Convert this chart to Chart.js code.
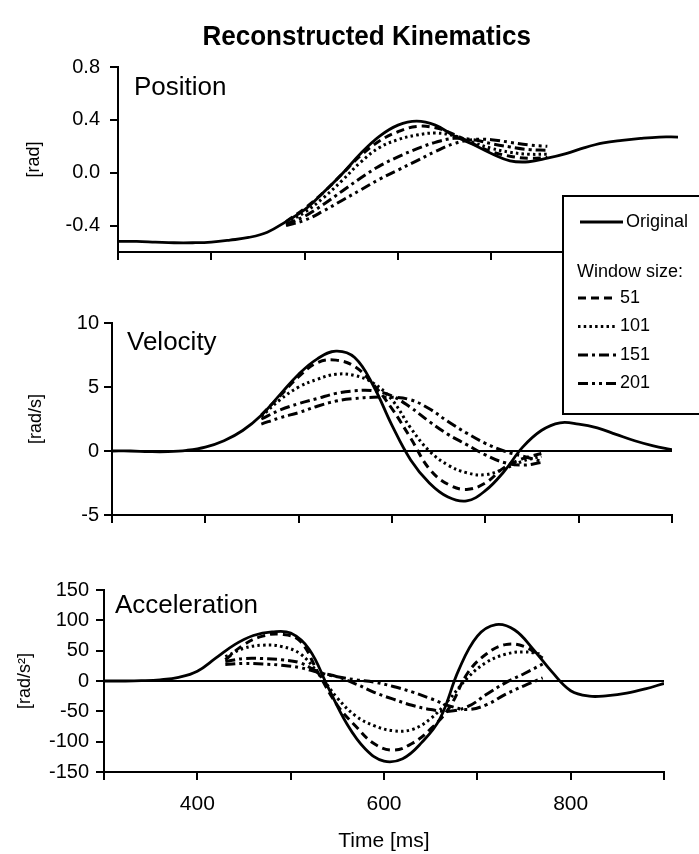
<!DOCTYPE html>
<html>
<head>
<meta charset="utf-8">
<script src="https://cdn.jsdelivr.net/npm/chart.js@4.4.0/dist/chart.umd.min.js"></script>
<style>
html,body{margin:0;padding:0;background:#fff;}
#wrap{position:relative;width:699px;height:854px;overflow:hidden;background:#fff;}
#wrap canvas{position:absolute;left:0;top:0;}
#title{position:absolute;left:16px;top:20px;width:699px;text-align:center;font-weight:bold;font-size:28px;line-height:32px;font-family:"Liberation Sans",Arial,Helvetica,sans-serif;color:#000;transform:scaleX(0.93);transform-origin:366px 0;}
</style>
</head>
<body>
<div id="wrap">
<canvas id="cPos" width="699" height="854"></canvas>
<canvas id="cVel" width="699" height="854"></canvas>
<canvas id="cAcc" width="699" height="854"></canvas>
<div id="title">Reconstructed Kinematics</div>
</div>
<script>
// ---------------- DATA ----------------
const timeOriginal = [300,320,340,360,380,400,420,440,460,480,500,520,540,560,580,600,620,640,660,680,700,720,740,760,780,800,820,840,860,880,900];
const positionOriginal = [-0.52,-0.52,-0.525,-0.53,-0.53,-0.525,-0.51,-0.49,-0.45,-0.37,-0.28,-0.15,-0.01,0.145,0.275,0.36,0.39,0.36,0.28,0.215,0.145,0.09,0.083,0.11,0.145,0.19,0.225,0.245,0.26,0.27,0.27];
const velocityOriginal = [0,0,-0.05,-0.05,0.05,0.3,0.8,1.6,2.8,4.4,6.0,7.2,7.8,7.3,5.1,2.0,-0.7,-2.5,-3.6,-3.9,-3.1,-1.6,0.3,1.6,2.2,2.1,1.8,1.3,0.8,0.4,0.1];
const accelerationOriginal = [0,0,0.5,2,6,16,38,60,75,81,79,52,-10,-70,-112,-132,-128,-102,-62,18,74,93,84,52,15,-16,-25,-24,-20,-13,-4];

const timePositionFiltered = [480,500,520,540,560,580,600,620,640,660,680,700,720,740,760];
const positionW51  = [-0.37,-0.27,-0.15,-0.01,0.13,0.24,0.31,0.35,0.34,0.29,0.22,0.16,0.125,0.11,0.115];
const positionW101 = [-0.38,-0.30,-0.19,-0.06,0.08,0.19,0.25,0.285,0.30,0.28,0.23,0.185,0.155,0.14,0.14];
const positionW151 = [-0.39,-0.33,-0.24,-0.14,-0.04,0.05,0.12,0.18,0.23,0.26,0.25,0.22,0.195,0.175,0.17];
const positionW201 = [-0.40,-0.36,-0.29,-0.21,-0.13,-0.05,0.02,0.09,0.16,0.22,0.25,0.25,0.23,0.21,0.20];

const timeVelocityFiltered = [460,480,500,520,540,560,580,600,620,640,660,680,700,720,740,760];
const velocityW51  = [2.8,4.3,5.8,6.9,7.1,6.6,5.2,3.3,1.0,-1.4,-2.6,-3.0,-2.5,-1.3,-0.6,-0.2];
const velocityW101 = [2.7,4.0,5.0,5.6,6.0,5.9,5.3,4.0,1.8,0.0,-1.1,-1.7,-1.85,-1.4,-0.8,-0.4];
const velocityW151 = [2.5,3.2,3.7,4.1,4.5,4.7,4.7,4.3,3.4,2.3,1.3,0.5,-0.3,-0.9,-1.1,-0.9];
const velocityW201 = [2.1,2.6,3.0,3.5,3.9,4.1,4.2,4.2,4.0,3.3,2.3,1.4,0.6,0.0,-0.4,-0.8];

const timeAccelerationFiltered = [430,450,470,490,510,530,550,570,590,610,630,650,670,690,710,730,750,770];
const accelerationW51  = [35,60,74,77,66,12,-40,-75,-104,-114,-103,-79,-44,14,45,60,57,38];
const accelerationW101 = [40,54,59,57,45,12,-28,-58,-74,-82,-80,-62,-30,6,31,44,48,44];
const accelerationW151 = [32,37,37,35,30,15,7,-5,-19,-30,-40,-47,-50,-42,-22,-3,12,28];
const accelerationW201 = [27,29,28,26,22,14,7,2,-2,-9,-18,-29,-41,-47,-39,-22,-8,5];

const originalLabel = 'Original';
const windowLabels = ['51','101','151','201'];
const windowHeader = 'Window size:';
const xTickValues = [300,400,500,600,700,800,900];
const xTickLabeled = [400,600,800];
const positionTicks = [-0.4,0.0,0.4,0.8];
const velocityTicks = [-5,0,5,10];
const accelerationTicks = [-150,-100,-50,0,50,100,150];

// ---------------- STYLE ----------------
const FONT = '"Liberation Sans", Arial, Helvetica, sans-serif';
const originalStyle = {borderDash: [], borderWidth: 2.8};
const windowStyles = [
  {borderDash: [8,5], borderWidth: 3},
  {borderDash: [2.5,3.2], borderWidth: 3},
  {borderDash: [10,4,3,4], borderWidth: 3},
  {borderDash: [10,4,3,4,3,4], borderWidth: 3}
];

function pts(xs, ys){ return xs.map((x,i)=>({x:x, y:ys[i]})); }

function buildDatasets(tOrig, orig, tFilt, filtered){
  const ds = [{label: originalLabel, data: pts(tOrig, orig), borderColor:'#000', borderWidth: originalStyle.borderWidth,
    borderDash: originalStyle.borderDash, tension:0.4, pointRadius:0, fill:false}];
  filtered.forEach((f,i)=>{
    ds.push({label: windowLabels[i], data: pts(tFilt, f), borderColor:'#000', borderWidth: windowStyles[i].borderWidth,
      borderDash: windowStyles[i].borderDash, borderCapStyle:'butt', tension:0.4, pointRadius:0, fill:false});
  });
  return ds;
}

const panelLabelPlugin = {
  id:'panelLabel',
  afterDatasetsDraw(chart, args, opts){
    if(!opts || !opts.text) return;
    const {ctx, chartArea} = chart;
    ctx.save();
    ctx.font = opts.size + 'px ' + FONT;
    ctx.fillStyle = '#000';
    ctx.textBaseline = 'alphabetic';
    ctx.textAlign = 'left';
    ctx.fillText(opts.text, chartArea.left + opts.dx, chartArea.top + opts.dy);
    ctx.restore();
  }
};

const zeroLinePlugin = {
  id:'zeroLine',
  beforeDatasetsDraw(chart, args, opts){
    if(!opts || !opts.show) return;
    const {ctx, chartArea} = chart;
    const y = chart.scales.y.getPixelForValue(0);
    ctx.save();
    ctx.strokeStyle = '#000';
    ctx.lineWidth = 2;
    ctx.beginPath();
    ctx.moveTo(chartArea.left, y);
    ctx.lineTo(chartArea.right, y);
    ctx.stroke();
    ctx.restore();
  }
};

const boxLegendPlugin = {
  id:'boxLegend',
  afterDraw(chart, args, opts){
    if(!opts || !opts.show) return;
    const ctx = chart.ctx;
    const ds = chart.data.datasets;
    ctx.save();
    ctx.fillStyle = '#fff';
    ctx.fillRect(opts.x, opts.y, opts.w, opts.h);
    ctx.strokeStyle = '#000';
    ctx.lineWidth = 2;
    ctx.strokeRect(opts.x, opts.y, opts.w, opts.h);
    ctx.font = opts.size + 'px ' + FONT;
    ctx.fillStyle = '#000';
    ctx.textBaseline = 'middle';
    ctx.textAlign = 'left';
    // Original
    ctx.lineWidth = ds[0].borderWidth;
    ctx.setLineDash([]);
    ctx.beginPath();
    ctx.moveTo(opts.x + 17, opts.y + 26);
    ctx.lineTo(opts.x + 60, opts.y + 26);
    ctx.stroke();
    ctx.fillText(ds[0].label, opts.x + 63, opts.y + 26);
    // header
    ctx.fillText(windowHeader, opts.x + 14, opts.y + 76);
    for(let i=1;i<ds.length;i++){
      const yy = opts.y + 102 + (i-1)*28.5;
      ctx.lineWidth = ds[i].borderWidth;
      ctx.setLineDash(ds[i].borderDash);
      ctx.beginPath();
      ctx.moveTo(opts.x + 15, yy);
      ctx.lineTo(opts.x + 53, yy);
      ctx.stroke();
      ctx.setLineDash([]);
      ctx.fillText(ds[i].label, opts.x + 57, yy);
    }
    ctx.restore();
  }
};

function makeChart(id, g, datasets, yCfg, showXLabels, xTitle, plug){
  return new Chart(document.getElementById(id), {
    type:'line',
    data:{datasets: datasets},
    options:{
      responsive:false, animation:false, devicePixelRatio:1,
      layout:{padding:{left:g.padL, top:g.top, right:699-g.right, bottom:854-g.bottom-g.xH}},
      plugins:{
        legend:{display:false}, tooltip:{enabled:false}, title:{display:false},
        panelLabel: plug.panelLabel, zeroLine: plug.zeroLine, boxLegend: plug.boxLegend || {show:false}
      },
      scales:{
        x:{
          type:'linear', min:300, max:900,
          afterFit: s => { s.height = g.xH; },
          afterBuildTicks: s => { s.ticks = xTickValues.map(v=>({value:v})); },
          ticks:{autoSkip:false, maxRotation:0, padding:12, color:'#000', font:{family:FONT, size:21},
            callback: v => (showXLabels && xTickLabeled.includes(v)) ? String(v) : ''},
          grid:{display:true, drawOnChartArea:false, drawTicks:true, tickLength:8, color:'#000', lineWidth:2},
          border:{display:true, color:'#000', width:2},
          title:{display: !!xTitle, text: xTitle || '', color:'#000', font:{family:FONT, size:21}, padding:{top:0,bottom:0}}
        },
        y:{
          min: yCfg.min, max: yCfg.max,
          afterFit: s => { s.width = g.left - g.padL; },
          afterBuildTicks: s => { s.ticks = yCfg.ticks.map(v=>({value:v})); },
          ticks:{autoSkip:false, padding: yCfg.tickPad, color:'#000', font:{family:FONT, size:20},
            callback: v => yCfg.fmt(v)},
          grid:{display:true, drawOnChartArea:false, drawTicks:true, tickLength:8, color:'#000', lineWidth:2},
          border:{display:true, color:'#000', width:2},
          title:{display:true, text: yCfg.title, color:'#000', font:{family:FONT, size:18}, padding:{top: yCfg.titlePad, bottom:0}}
        }
      }
    },
    plugins:[zeroLinePlugin, panelLabelPlugin, boxLegendPlugin]
  });
}

// Position
makeChart('cPos', {padL:10, left:118, right:678, top:67, bottom:252, xH:10},
  buildDatasets(timeOriginal, positionOriginal, timePositionFiltered, [positionW51, positionW101, positionW151, positionW201]),
  {min:-0.6, max:0.8, ticks: positionTicks, fmt: v => v.toFixed(1), title:'[rad]', titlePad:13, tickPad:10},
  false, null,
  {panelLabel:{text:'Position', dx:16, dy:28, size:26}, zeroLine:{show:false}});

// Velocity (with legend box)
makeChart('cVel', {padL:10, left:112, right:672, top:323, bottom:515, xH:10},
  buildDatasets(timeOriginal, velocityOriginal, timeVelocityFiltered, [velocityW51, velocityW101, velocityW151, velocityW201]),
  {min:-5, max:10, ticks: velocityTicks, fmt: v => String(v), title:'[rad/s]', titlePad:15, tickPad:5},
  false, null,
  {panelLabel:{text:'Velocity', dx:15, dy:27, size:26}, zeroLine:{show:true},
   boxLegend:{show:true, x:563, y:196, w:150, h:218, size:18}});

// Acceleration
makeChart('cAcc', {padL:4, left:104, right:664, top:590, bottom:772, xH:82},
  buildDatasets(timeOriginal, accelerationOriginal, timeAccelerationFiltered, [accelerationW51, accelerationW101, accelerationW151, accelerationW201]),
  {min:-150, max:150, ticks: accelerationTicks, fmt: v => String(v), title:'[rad/s\u00B2]', titlePad:10, tickPad:7},
  true, 'Time [ms]',
  {panelLabel:{text:'Acceleration', dx:11, dy:23, size:26}, zeroLine:{show:true}});
</script>
</body>
</html>
